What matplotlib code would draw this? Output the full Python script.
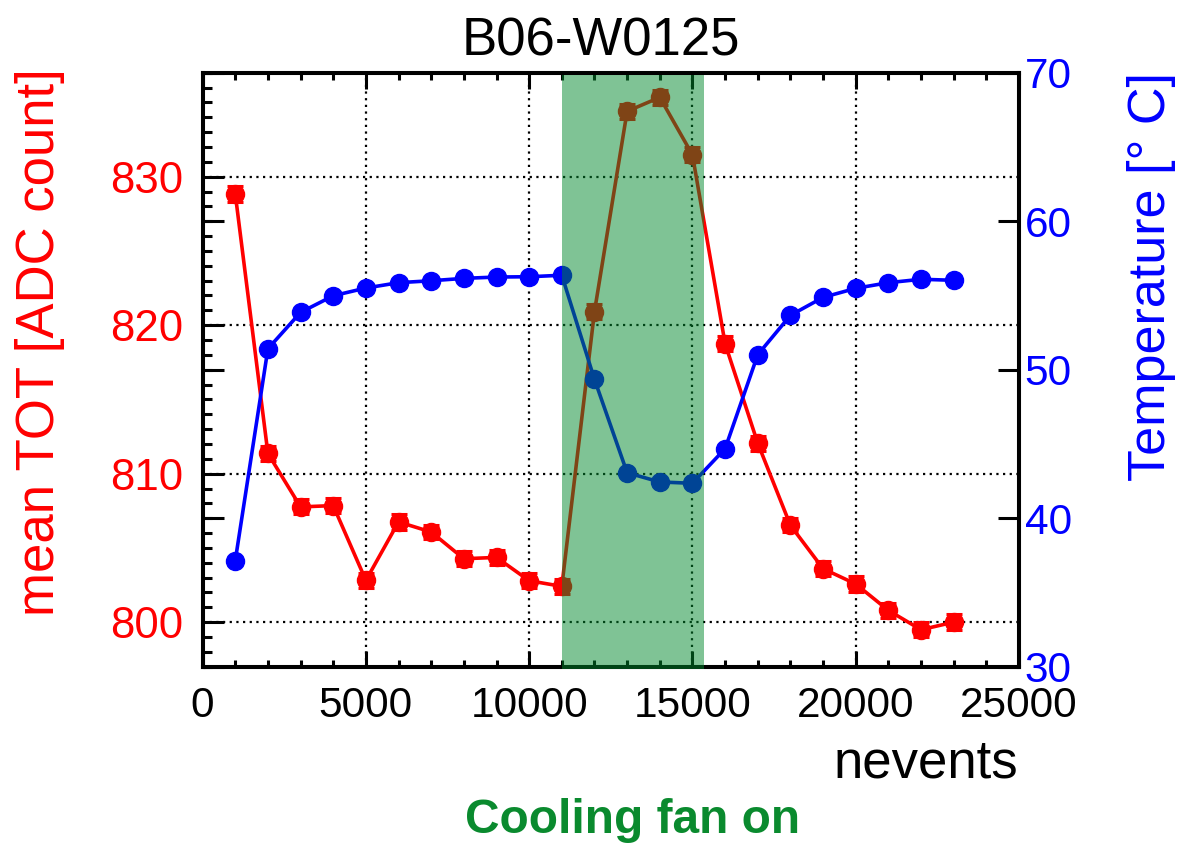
import matplotlib
matplotlib.use("Agg")
import matplotlib.pyplot as plt
import matplotlib.transforms as mtransforms
from matplotlib.patches import Rectangle
from matplotlib.ticker import MultipleLocator, FixedLocator, NullLocator

plt.rcParams["font.family"] = ["Liberation Sans", "DejaVu Sans"]

# Run data: number of processed events per step
nevents = [1000, 2000, 3000, 4000, 5000, 6000, 7000, 8000, 9000, 10000, 11000, 12000,
           13000, 14000, 15000, 16000, 17000, 18000, 19000, 20000, 21000, 22000, 23000]

# Mean time-over-threshold and its uncertainty [ADC count]
mean_tot = [828.84, 811.36, 807.76, 807.85, 802.81, 806.75, 806.07, 804.27, 804.36, 802.79,
            802.41, 820.91, 834.40, 835.34, 831.47, 818.75, 812.05, 806.52, 803.60, 802.57,
            800.79, 799.49, 800.00]
mean_tot_err = [0.55, 0.50, 0.50, 0.52, 0.48, 0.52, 0.50, 0.50, 0.52, 0.50, 0.52, 0.50,
                0.50, 0.50, 0.50, 0.50, 0.50, 0.48, 0.50, 0.52, 0.50, 0.50, 0.52]

# Sensor temperature [deg C]
temperature = [37.14, 51.41, 53.86, 54.98, 55.50, 55.86, 55.99, 56.15, 56.24, 56.26, 56.36,
               49.35, 43.06, 42.44, 42.35, 44.68, 51.01, 53.66, 54.87, 55.48, 55.86, 56.09,
               56.02]

# Interval with the cooling fan switched on
fan_on = [11000, 15350]

tot_ticks = [800, 810, 820, 830]
temp_ticks = [30, 40, 50, 60, 70]

W, H = 1178, 846
fig = plt.figure(figsize=(W / 100, H / 100), dpi=100)
ax = fig.add_axes([202.6 / W, 1 - 666.7 / H, (1019 - 202.6) / W, 594 / H])

spine_w = 2.9
tick_w = 2.2
line_w = 2.6
marker_size = 13

# Left axis: mean TOT
ax.set_xlim(0, 25000)
ax.set_ylim(797, 837)
ax.xaxis.set_major_locator(MultipleLocator(5000))
ax.xaxis.set_minor_locator(MultipleLocator(1000))
ax.yaxis.set_major_locator(FixedLocator(tot_ticks))
ax.yaxis.set_minor_locator(MultipleLocator(1))
ax.tick_params(axis="x", which="major", direction="in", length=11.5, width=tick_w,
               top=True, bottom=True, labelsize=30.5, pad=14)
ax.tick_params(axis="x", which="minor", direction="in", length=5, width=tick_w,
               top=True, bottom=True)
ax.tick_params(axis="y", which="major", direction="in", length=15, width=tick_w,
               left=True, right=True, labelsize=31.5, labelcolor="red", pad=14)
ax.tick_params(axis="y", which="minor", direction="in", length=6.5, width=tick_w,
               left=True, right=True)
ax.grid(True, which="major", color="black", linestyle=(0, (1.0, 2.0)), linewidth=1.6)
ax.set_axisbelow(True)
for s in ax.spines.values():
    s.set_linewidth(spine_w)

ax.errorbar(nevents, mean_tot, yerr=mean_tot_err, fmt="-o", color="red", ms=marker_size,
            lw=line_w, elinewidth=line_w, capsize=6, capthick=2.2, zorder=3)

# Right axis: temperature
ax2 = ax.twinx()
ax2.set_ylim(30, 70)
ax2.yaxis.set_major_locator(FixedLocator(temp_ticks))
ax2.yaxis.set_minor_locator(NullLocator())
ax2.tick_params(axis="y", which="major", direction="in", length=15, width=tick_w,
                left=True, right=True, labelleft=False, labelright=True,
                labelsize=30.5, labelcolor="blue", pad=4)
for s in ax2.spines.values():
    s.set_linewidth(spine_w)

ax2.plot(nevents, temperature, "-o", color="blue", ms=marker_size, lw=line_w, zorder=3)

# Translucent band marking the fan-on period, drawn over the frame
band_tr = mtransforms.blended_transform_factory(ax2.transData, ax2.transAxes)
ax2.add_patch(Rectangle((fan_on[0], -0.0034), fan_on[1] - fan_on[0], 1.0,
                        transform=band_tr, facecolor="#01892D", edgecolor="none",
                        alpha=0.5, zorder=10, clip_on=False))

# Titles and labels
fig.text(601 / W, 1 - 55 / H, "B06-W0125", ha="center", va="baseline", fontsize=38)
fig.text(54 / W, 1 - 68 / H, "mean TOT [ADC count]", rotation=90, rotation_mode="anchor",
         ha="right", va="baseline", color="red", fontsize=38)
fig.text(1165 / W, 1 - 72 / H, "Temperature [° C]", rotation=90, rotation_mode="anchor",
         ha="right", va="baseline", color="blue", fontsize=37.5)
fig.text(1018 / W, 1 - 777 / H, "nevents", ha="right", va="baseline", fontsize=38)
fig.text(633 / W, 1 - 833 / H, "Cooling fan on", ha="center", va="baseline",
         fontsize=34.5, fontweight="bold", color="#0A8A2E")

fig.savefig("out.png", dpi=100)
